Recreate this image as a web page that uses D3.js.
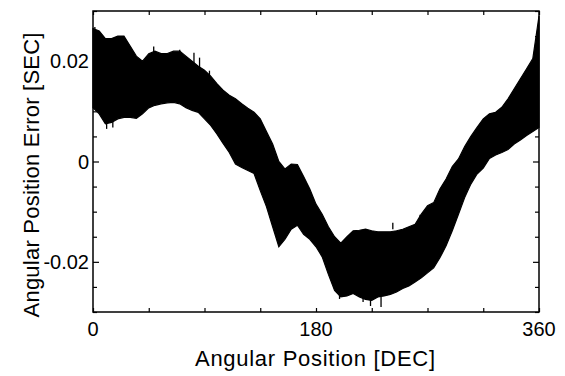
<!DOCTYPE html>
<html>
<head>
<meta charset="utf-8">
<script src="https://cdn.jsdelivr.net/npm/d3@7"></script>
<style>
  body { margin: 0; background: #fff; }
  text { font-family: "Liberation Sans", Arial, sans-serif; fill: #000; }
</style>
</head>
<body>
<div id="chart"></div>
<script>
// angle samples [deg] and the band envelopes [SEC]
const angles = [0, 5, 10, 15, 20, 25, 30, 35, 40, 45, 50, 55, 60, 65, 70, 75, 80, 85, 90,
  95, 100, 105, 110, 115, 120, 125, 130, 135, 140, 145, 150, 155, 160, 165, 170, 175, 180,
  185, 190, 195, 200, 205, 210, 215, 220, 225, 230, 235, 240, 245, 250, 255, 260, 265, 270,
  275, 280, 285, 290, 295, 300, 305, 310, 315, 320, 325, 330, 335, 340, 345, 350, 355, 360];

const upper = [0.0265, 0.026, 0.0245, 0.0245, 0.025, 0.025, 0.023, 0.021, 0.020, 0.0215,
  0.022, 0.0215, 0.0215, 0.022, 0.022, 0.021, 0.020, 0.019, 0.0182, 0.017, 0.0155, 0.0142,
  0.0132, 0.0125, 0.0115, 0.0106, 0.0098, 0.0085, 0.006, 0.0035, 0.0, -0.0015, -0.0005,
  -0.0006, -0.003, -0.0055, -0.0085, -0.0105, -0.013, -0.015, -0.0163, -0.015, -0.0138,
  -0.0137, -0.0135, -0.0138, -0.014, -0.014, -0.014, -0.0138, -0.0135, -0.013, -0.0125,
  -0.0105, -0.0088, -0.0082, -0.0055, -0.0035, -0.001, 0.0005, 0.003, 0.005, 0.0068, 0.0085,
  0.0095, 0.0098, 0.0108, 0.0125, 0.0145, 0.0165, 0.0185, 0.0205, 0.029];

const lower = [0.0107, 0.0095, 0.0075, 0.0078, 0.0085, 0.0088, 0.0088, 0.0086, 0.0095,
  0.0107, 0.0112, 0.0115, 0.0117, 0.0118, 0.0115, 0.0107, 0.0102, 0.0098, 0.0085, 0.0072,
  0.0055, 0.0036, 0.0018, -0.0005, -0.0012, -0.0018, -0.0024, -0.0058, -0.009, -0.013,
  -0.017, -0.0155, -0.0135, -0.0127, -0.0145, -0.0155, -0.017, -0.019, -0.0225, -0.0257,
  -0.027, -0.0268, -0.0263, -0.027, -0.0275, -0.0277, -0.027, -0.0268, -0.0265, -0.026,
  -0.0253, -0.0248, -0.024, -0.0232, -0.0222, -0.0212, -0.0192, -0.0168, -0.0138, -0.0105,
  -0.0072, -0.0045, -0.0025, -0.0013, 0.0006, 0.0013, 0.0018, 0.0024, 0.0035, 0.0043,
  0.0052, 0.006, 0.0068];

// the tallest single spikes that stick out of the band
const spikeAngles = [1.5, 49, 70, 81.5, 86, 94, 11, 16, 199, 218, 224, 232.5, 242, 264];
const spikeFrom = [0.0255, 0.0215, 0.0215, 0.0195, 0.0185, 0.017, 0.0085, 0.008, -0.026,
  -0.026, -0.027, -0.027, -0.0135, -0.012];
const spikeTo = [0.0268, 0.0229, 0.0223, 0.0217, 0.0207, 0.0181, 0.0065, 0.0068, -0.0274,
  -0.028, -0.0288, -0.029, -0.0122, -0.0106];

const xTicks = [0, 45, 90, 135, 180, 225, 270, 315, 360];
const xLabels = [0, 180, 360];
const yTicks = [-0.03, -0.025, -0.02, -0.015, -0.01, -0.005, 0, 0.005, 0.01, 0.015, 0.02, 0.025, 0.03];
const yLabels = [-0.02, 0, 0.02];

const width = 565;
const height = 376;
const plot = { left: 93, right: 539, top: 11, bottom: 312 };

const svg = d3.select('#chart').append('svg')
  .attr('width', width)
  .attr('height', height);

const x = d3.scaleLinear().domain([0, 360]).range([plot.left, plot.right]);
const y = d3.scaleLinear().domain([-0.03, 0.03]).range([plot.bottom, plot.top]);

const band = angles.map((a, i) => ({ a: a, hi: upper[i], lo: lower[i] }));

const area = d3.area()
  .x((d) => x(d.a))
  .y0((d) => y(d.lo))
  .y1((d) => y(d.hi));

svg.append('path')
  .datum(band)
  .attr('d', area)
  .attr('fill', '#000')
  .attr('stroke', '#000')
  .attr('stroke-width', 1.2)
  .attr('stroke-linejoin', 'miter');

svg.append('g').selectAll('line')
  .data(spikeAngles)
  .join('line')
  .attr('x1', (d) => x(d))
  .attr('x2', (d) => x(d))
  .attr('y1', (d, i) => y(spikeFrom[i]))
  .attr('y2', (d, i) => y(spikeTo[i]))
  .attr('stroke', '#000')
  .attr('stroke-width', 1.3);

// frame
svg.append('rect')
  .attr('x', plot.left)
  .attr('y', plot.top)
  .attr('width', plot.right - plot.left)
  .attr('height', plot.bottom - plot.top)
  .attr('fill', 'none')
  .attr('stroke', '#000')
  .attr('stroke-width', 1.5);

// inward ticks, all four sides
const isYMajor = (t) => yLabels.some((v) => Math.abs(v - t) < 1e-9);

svg.append('g')
  .attr('transform', `translate(0, ${plot.bottom})`)
  .call(d3.axisBottom(x).tickValues(xTicks).tickSize(-4).tickFormat(''))
  .call((g) => g.select('.domain').remove());

svg.append('g')
  .attr('transform', `translate(0, ${plot.top})`)
  .call(d3.axisTop(x).tickValues(xTicks).tickSize(-4).tickFormat(''))
  .call((g) => g.select('.domain').remove());

svg.append('g')
  .attr('transform', `translate(${plot.left}, 0)`)
  .call(d3.axisLeft(y).tickValues(yTicks).tickSize(-4).tickFormat(''))
  .call((g) => g.select('.domain').remove())
  .call((g) => g.selectAll('.tick line').attr('x2', (d) => isYMajor(d) ? 6 : 4));

svg.append('g')
  .attr('transform', `translate(${plot.right}, 0)`)
  .call(d3.axisRight(y).tickValues(yTicks).tickSize(-4).tickFormat(''))
  .call((g) => g.select('.domain').remove())
  .call((g) => g.selectAll('.tick line').attr('x2', (d) => isYMajor(d) ? -6 : -4));

svg.selectAll('.tick line').attr('stroke', '#000').attr('stroke-width', 1.2);

// tick labels
svg.append('g').selectAll('text')
  .data(xLabels)
  .join('text')
  .attr('x', (d) => x(d))
  .attr('y', 336)
  .attr('text-anchor', 'middle')
  .attr('font-size', 20)
  .text((d) => d);

svg.append('g').selectAll('text')
  .data(yLabels)
  .join('text')
  .attr('x', 89)
  .attr('y', (d) => y(d) + 7)
  .attr('text-anchor', 'end')
  .attr('font-size', 20)
  .text((d) => d === 0 ? '0' : d.toFixed(2));

// axis titles
svg.append('text')
  .attr('x', 315)
  .attr('y', 366)
  .attr('text-anchor', 'middle')
  .attr('font-size', 22)
  .attr('textLength', 240)
  .attr('lengthAdjust', 'spacing')
  .text('Angular Position [DEC]');

svg.append('text')
  .attr('transform', 'translate(39, 175) rotate(-90)')
  .attr('text-anchor', 'middle')
  .attr('font-size', 22)
  .attr('textLength', 285)
  .attr('lengthAdjust', 'spacing')
  .text('Angular Position Error [SEC]');
</script>
</body>
</html>
